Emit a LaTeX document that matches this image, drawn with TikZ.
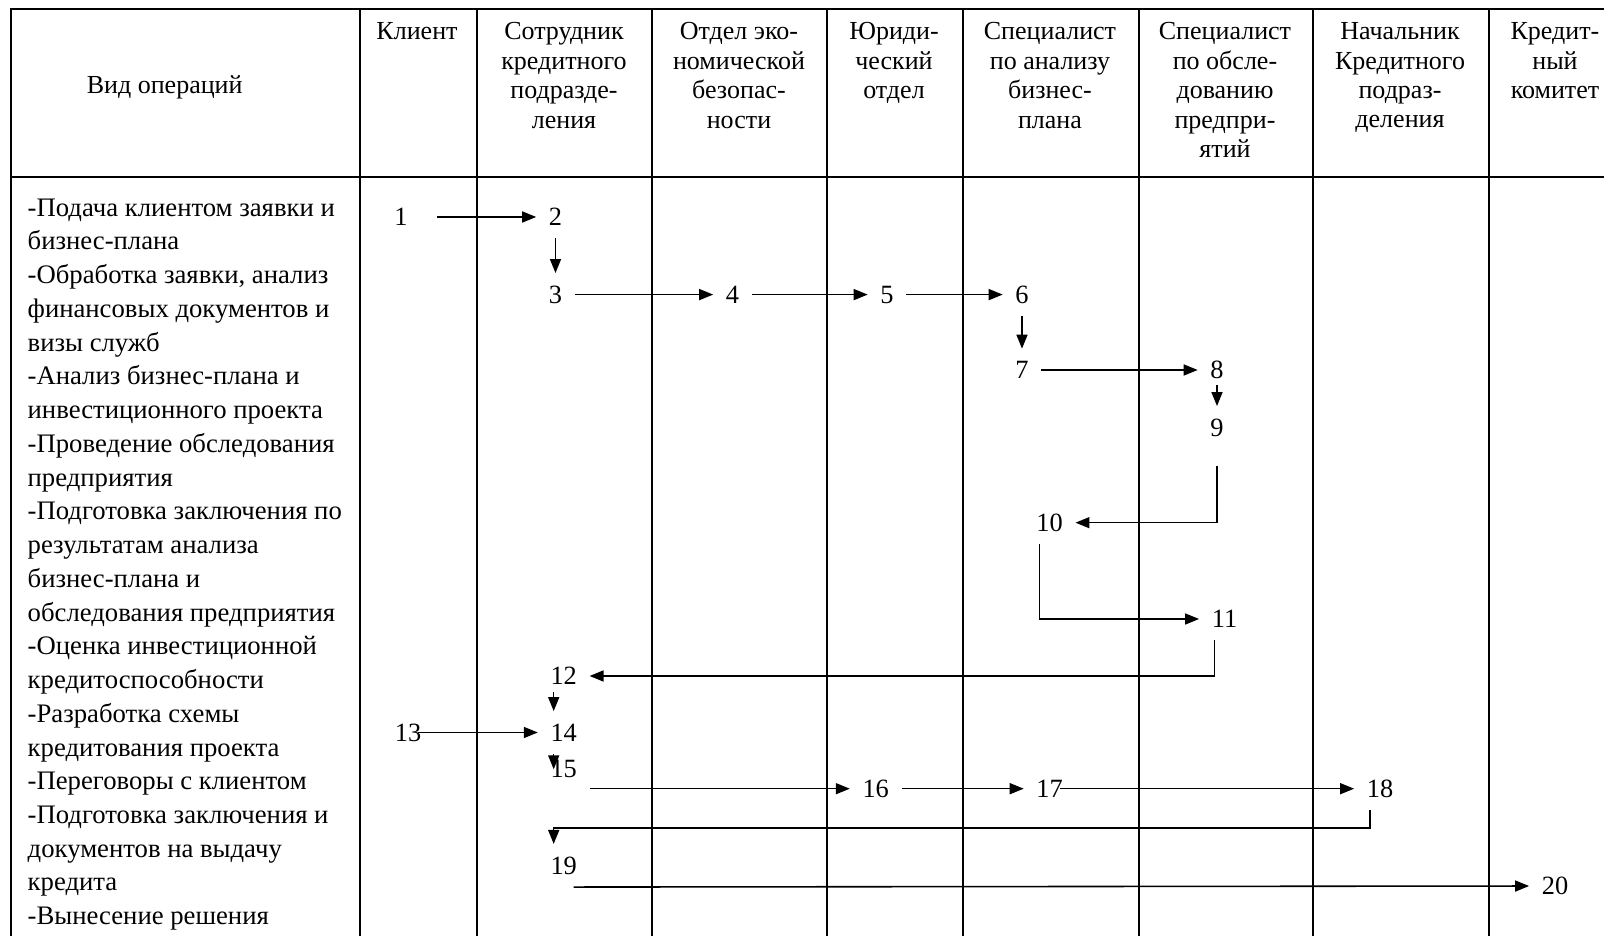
\documentclass[tikz,border=0pt]{standalone}
\usepackage{fontspec}
\setmainfont{Liberation Serif}
\usetikzlibrary{arrows.meta}
\begin{document}
\begin{tikzpicture}[
  grid/.style={line width=0.6pt},
  head/.style={align=center,anchor=north,inner sep=0pt,font=\fontsize{7.4}{8.36}\selectfont},
  num/.style={inner sep=0.12cm,font=\fontsize{7.5}{8.9}\selectfont},
  flow/.style={-{Triangle[length=0.14cm,width=0.11cm]},line width=0.45pt}
 ]
 \useasboundingbox (0,0) rectangle (16.04,-9.36);
 \draw[grid] (16.04,-0.09)--(0.11,-0.09)--(0.11,-9.36);
 \draw[grid] (0.11,-1.77)--(16.04,-1.77);
 \foreach \x in {3.60,4.77,6.52,8.27,9.63,11.39,13.13,14.89}
  \draw[grid] (\x,-0.09)--(\x,-9.36);
 \node[head,anchor=center] (hops) at (1.647,-0.87) {Вид операций};
 \node[head] (hclient) at (4.17,-0.22) {Клиент};
 \node[head] (hstaff) at (5.64,-0.22) {Сотрудник\\кредитного\\подразде-\\ления};
 \node[head] (hsec) at (7.39,-0.22) {Отдел эко-\\номической\\безопас-\\ности};
 \node[head] (hlaw) at (8.94,-0.22) {Юриди-\\ческий\\отдел};
 \node[head] (hplan) at (10.50,-0.22) {Специалист\\по анализу\\бизнес-\\плана};
 \node[head] (hsurvey) at (12.25,-0.22) {Специалист\\по обсле-\\дованию\\предпри-\\ятий};
 \node[head] (hchief) at (14.00,-0.22) {Начальник\\Кредитного\\подраз-\\деления};
 \node[head] (hcomm) at (15.55,-0.22) {Кредит-\\ный\\комитет};
 \node[anchor=north west,align=left,inner sep=0pt,font=\fontsize{7.6}{9.6}\selectfont] (ops) at (0.27,-1.98)
  {-Подача клиентом заявки и\\бизнес-плана\\-Обработка заявки, анализ\\финансовых документов и\\визы служб\\
   -Анализ бизнес-плана и\\инвестиционного проекта\\-Проведение обследования\\предприятия\\
   -Подготовка заключения по\\результатам анализа\\бизнес-плана и\\обследования предприятия\\
   -Оценка инвестиционной\\кредитоспособности\\-Разработка схемы\\кредитования проекта\\
   -Переговоры с клиентом\\-Подготовка заключения и\\документов на выдачу\\кредита\\-Вынесение решения};
 \node[num] (n1) at (4.01,-2.17) {1};
 \node[num] (n2) at (5.555,-2.17) {2};
 \node[num] (n3) at (5.555,-2.946) {3};
 \node[num] (n4) at (7.325,-2.946) {4};
 \node[num] (n5) at (8.87,-2.946) {5};
 \node[num] (n6) at (10.22,-2.946) {6};
 \node[num] (n7) at (10.22,-3.70) {7};
 \node[num] (n8) at (12.17,-3.70) {8};
 \node[num] (n9) at (12.17,-4.276) {9};
 \node[num] (n10) at (10.496,-5.227) {10};
 \node[num] (n11) at (12.245,-6.19) {11};
 \node[num] (n12) at (5.637,-6.76) {12};
 \node[num] (n13) at (4.08,-7.325) {13};
 \node[num] (n14) at (5.637,-7.325) {14};
 \node[num] (n15) at (5.637,-7.693) {15};
 \node[num] (n16) at (8.757,-7.887) {16};
 \node[num] (n17) at (10.496,-7.887) {17};
 \node[num] (n18) at (13.80,-7.887) {18};
 \node[num] (n19) at (5.637,-8.655) {19};
 \node[num] (n20) at (15.55,-8.86) {20};
 \draw[flow,shorten <=0.17cm] (n1)--(n2);
 \draw[flow] (n2)--(n3);
 \draw[flow] (n3)--(n4);
 \draw[flow] (n4)--(n5);
 \draw[flow] (n5)--(n6);
 \draw[flow] (n6)--(n7);
 \draw[flow] (n7)--(n8);
 \draw[flow,shorten <=-0.07cm] (n8)--(n9);
 \draw[flow,shorten <=0.17cm] (n9)|-(n10);
 \draw[flow] ([xshift=-1mm]n10.south)|-(n11);
 \draw[flow] ([xshift=-1mm]n11.south)|-(n12);
 \draw[flow,shorten <=-0.05cm] ([xshift=-1mm]n12.south)--([xshift=-1mm]n14.north);
 \draw[flow,shorten <=-0.16cm] (n13)--(n14);
 \draw[flow] ([xshift=-1mm]n14.south)--([xshift=-1mm]n15.center);
 \draw[flow] (n15.east |- n16)--(n16);
 \draw[flow] (n16)--(n17);
 \draw[flow,shorten <=-0.15cm] (n17)--(n18);
 \draw[flow] ([xshift=-1mm]n18.south)--++(0,-0.18)-|([xshift=-1mm]n19.north);
 \draw[flow] ([xshift=1mm]n19.south)--(n20);
\end{tikzpicture}
\end{document}
